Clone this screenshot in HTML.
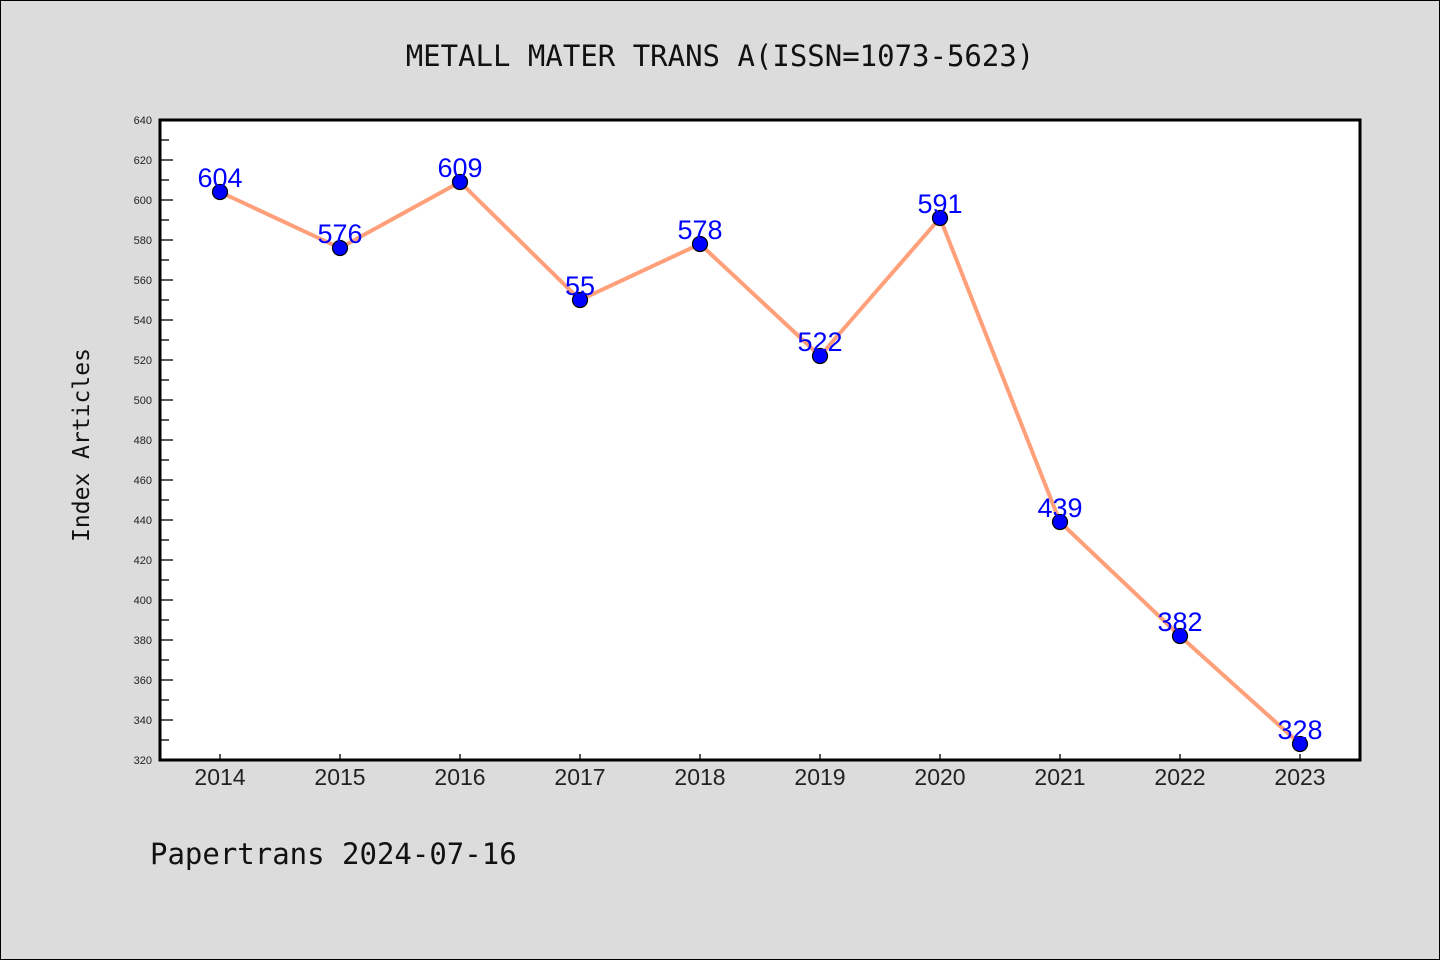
<!DOCTYPE html>
<html><head><meta charset="utf-8"><style>
html,body{margin:0;padding:0;background:#dcdcdc;}
svg{display:block;font-family:"Liberation Sans","DejaVu Sans",sans-serif;}
</style></head><body>
<svg id="chart" width="1440" height="960" xmlns="http://www.w3.org/2000/svg">
<rect x="0.5" y="0.5" width="1439" height="959" fill="#dcdcdc" stroke="#000" stroke-width="1"/>
<text x="720" y="66" text-anchor="middle" font-family="'DejaVu Sans Mono','Liberation Mono',monospace" font-size="29" fill="#111">METALL MATER TRANS A(ISSN=1073-5623)</text>
<rect x="160" y="120" width="1200" height="640" fill="#fff"/>
<g id="yaxis"></g>
<g id="xaxis"></g>
<g id="series"></g>
<rect x="160" y="120" width="1200" height="640" fill="none" stroke="#000" stroke-width="3"/>
<text transform="translate(89,445) rotate(-90)" text-anchor="middle" font-family="'DejaVu Sans Mono','Liberation Mono',monospace" font-size="23" fill="#111">Index Articles</text>
<text x="150" y="864" font-family="'DejaVu Sans Mono','Liberation Mono',monospace" font-size="29" fill="#111">Papertrans 2024-07-16</text>
</svg>
<script>
const categories = ["2014","2015","2016","2017","2018","2019","2020","2021","2022","2023"];
const values = [604,576,609,550,578,522,591,439,382,328];
const valueLabels = ["604","576","609","55","578","522","591","439","382","328"];
const yTicks = [320,340,360,380,400,420,440,460,480,500,520,540,560,580,600,620,640];
const yMin = 320, yMax = 640;
const NS = "http://www.w3.org/2000/svg";
function y(v){ return 760 - (v - yMin) / (yMax - yMin) * 640; }
function x(i){ return 220 + i * 120; }
function mk(tag, attrs, parent){ const e = document.createElementNS(NS, tag); for (const k in attrs) e.setAttribute(k, attrs[k]); parent.appendChild(e); return e; }
const ya = document.getElementById("yaxis");
yTicks.forEach((t, i) => {
  const ln = mk("line", {x1:160, x2:173, y1:y(t), y2:y(t), stroke:"#000", "stroke-width":1.3}, ya);
  
  
  if (i < yTicks.length - 1) {
    const m = (t + yTicks[i+1]) / 2;
    const ml = mk("line", {x1:160, x2:169, y1:y(m), y2:y(m), stroke:"#000", "stroke-width":1.3}, ya);
    
    
  }
  const tx = mk("text", {x:152, y:y(t)+4, "text-anchor":"end", "font-size":11, fill:"#222"}, ya);
  tx.textContent = t;
  
  
});
const xa = document.getElementById("xaxis");
categories.forEach((c, i) => {
  const ln = mk("line", {x1:x(i), x2:x(i), y1:754, y2:760, stroke:"#000", "stroke-width":1.3}, xa);
  
  
  const tx = mk("text", {x:x(i), y:785, "text-anchor":"middle", "font-size":23, fill:"#222"}, xa);
  tx.textContent = c;
  
  
});
const s = document.getElementById("series");
const pl = mk("polyline", {points: values.map((v,i)=>x(i)+","+y(v)).join(" "), fill:"none", stroke:"#ffa07a", "stroke-width":4, "stroke-linejoin":"round"}, s);


values.forEach((v, i) => {
  const c = mk("circle", {cx:x(i), cy:y(v), r:7.5, fill:"#0000ff", stroke:"#000", "stroke-width":1.2}, s);
  
  
  const t = mk("text", {x:x(i), y:y(v)-5, "text-anchor":"middle", "font-size":27, fill:"#0000ff"}, s);
  t.textContent = valueLabels[i];
  
  
});
</script>
</body></html>
